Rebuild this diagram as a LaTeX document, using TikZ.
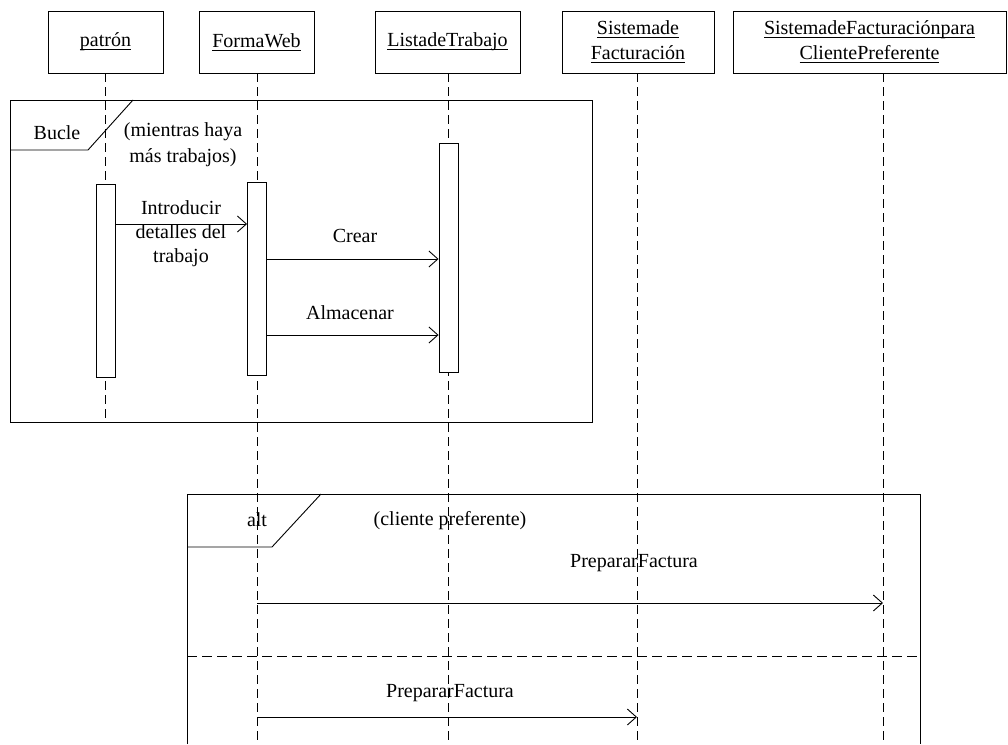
\documentclass[tikz,border=0pt]{standalone}
\usepackage{fontspec}
\setmainfont{Liberation Serif}
\usetikzlibrary{arrows.meta}
\newcommand\hul[1]{\setbox0\hbox{#1}\rlap{\copy0}\rule[-3.5pt]{\wd0}{0.9pt}}
\begin{document}
\begin{tikzpicture}[x=1pt,y=-1pt,
  every node/.style={font=\fontsize{20}{24}\selectfont, inner sep=0pt},
  hdr/.style={draw, line width=0.9pt, minimum height=62pt, align=center},
  life/.style={line width=0.9pt, dash pattern=on 9pt off 5pt},
  act/.style={draw, fill=white, line width=0.9pt, minimum width=19pt, anchor=north},
  frm/.style={line width=0.9pt},
  msg/.style={line width=0.9pt, -{Straight Barb[length=9pt,width=16pt,line width=0.9pt]}},
  lbl/.style={align=center}]
\useasboundingbox (0,0) rectangle (1008,744);

% headers
\node[hdr, minimum width=115pt] (p) at (105.5,42) {\hul{patrón}};
\node[hdr, minimum width=115pt] (f) at (256.5,42) {\hul{FormaWeb}};
\node[hdr, minimum width=145pt] (l) at (447.5,42) {\hul{ListadeTrabajo}};
\node[hdr, minimum width=152pt] (s) at (638,42) {\hul{Sistemade}\\[1pt]\hul{Facturación}};
\node[hdr, minimum width=273pt] (c) at (869.5,42) {\hul{SistemadeFacturaciónpara}\\[1pt]\hul{ClientePreferente}};

% lifeline ends
\coordinate (pe) at (105,422);
\coordinate (fe) at (257,744);
\coordinate (le) at (448,744);
\coordinate (se) at (637,744);
\coordinate (ce) at (883,744);

\draw[life] (p.south -| pe) -- (pe);
\draw[life] (f.south -| fe) -- (fe);
\draw[life] (l.south -| le) -- (le);
\draw[life] (s.south -| se) -- (se);
\draw[life] (c.south -| ce) -- (ce);

% loop frame
\coordinate (b1) at (10,100);
\coordinate (b2) at (592,422);
\draw[frm] (b1) rectangle (b2);
\coordinate (bs1) at (10,150);
\coordinate (bs2) at (88,150);
\coordinate (bs3) at (133,100);
\draw[frm] (bs1) -- (bs2) -- (bs3);
\node (bucle) at (57,133) {Bucle};
\node[lbl, font=\fontsize{20}{26}\selectfont] (cond1) at (183,145) {(mientras haya\\más trabajos)};

% activations
\node[act, minimum height=193pt] (ap) at (105.5,184) {};
\node[act, minimum height=193pt] (af) at (257,182) {};
\node[act, minimum height=229pt] (al) at (448.5,143) {};

% messages
\draw[msg] (ap.east |- 0,224) -- (af.west |- 0,224);
\node[lbl] (m1) at (181,234) {Introducir\\detalles del\\trabajo};
\draw[msg] (af.east |- 0,259) -- (al.west |- 0,259);
\node (m2) at (355,236) {Crear};
\draw[msg] (af.east |- 0,335) -- (al.west |- 0,335);
\node (m3) at (350,313) {Almacenar};

% alt frame
\coordinate (a1) at (187,744);
\coordinate (a2) at (187,494);
\coordinate (a3) at (920,494);
\coordinate (a4) at (920,744);
\draw[frm] (a1) -- (a2) -- (a3) -- (a4);
\coordinate (as1) at (187,547);
\coordinate (as2) at (272,547);
\coordinate (as3) at (321,494);
\draw[frm] (as1) -- (as2) -- (as3);
\node (alt) at (257,520) {alt};
\node (cond2) at (450,521) {(cliente preferente)};

\draw[msg] (fe |- 0,603) -- (ce |- 0,603);
\node (m4) at (634,563) {PrepararFactura};
\coordinate (d1) at (187,656);
\coordinate (d2) at (920,656);
\draw[frm, dash pattern=on 10pt off 5pt] (d1) -- (d2);
\draw[msg] (fe |- 0,717) -- (se |- 0,717);
\node (m5) at (450,693) {PrepararFactura};
\end{tikzpicture}
\end{document}
